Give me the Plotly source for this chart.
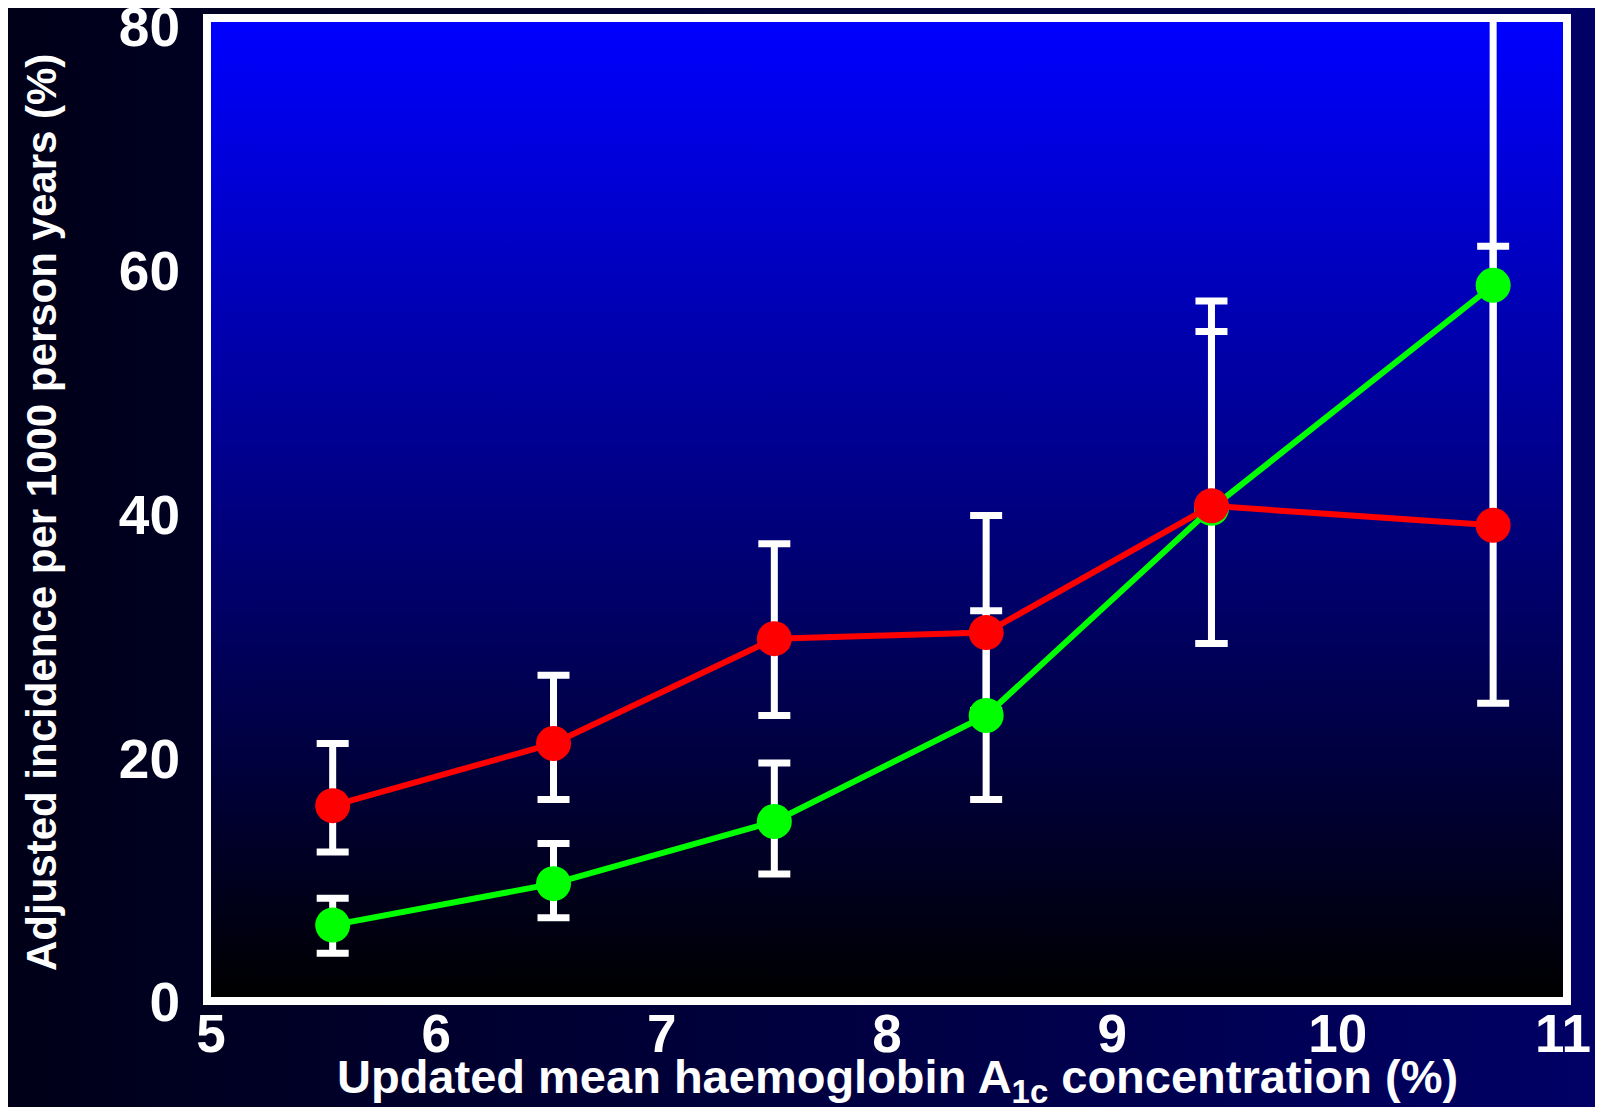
import base64
import plotly.graph_objects as go

# ---- data ----
hba1c = [5.54, 6.52, 7.50, 8.44, 9.44, 10.69]

red_y = [15.7, 20.8, 29.4, 29.9, 40.3, 38.7]
red_hi = [20.8, 26.4, 37.2, 39.5, 54.6, 100.0]
red_lo = [11.9, 16.2, 23.1, 23.5, 29.0, 24.1]

green_y = [5.9, 9.3, 14.4, 23.1, 40.1, 58.4]
green_hi = [8.1, 12.6, 19.2, 31.7, 57.1, 61.6]
green_lo = [3.6, 6.5, 10.1, 16.2, 29.0, 39.0]

x_ticks = [5, 6, 7, 8, 9, 10, 11]
y_ticks = [0, 20, 40, 60, 80]

x_title = "Updated mean haemoglobin A<sub>1c</sub> concentration (%)"
y_title = "Adjusted incidence per 1000 person years (%)"

# ---- layout geometry (page has an 8px body margin) ----
W, H = 1595, 1099
ML, MR, MT, MB = 203, 40, 14, 110
PW, PH = W - ML - MR, H - MT - MB


def svg_gradient(x2, y2, c0, c1):
    svg = (
        '<svg xmlns="http://www.w3.org/2000/svg" width="100" height="100" '
        'viewBox="0 0 100 100" preserveAspectRatio="none">'
        '<defs><linearGradient id="g" x1="0" y1="0" x2="%s" y2="%s">'
        '<stop offset="0" stop-color="%s"/><stop offset="1" stop-color="%s"/>'
        '</linearGradient></defs><rect width="100" height="100" fill="url(#g)"/></svg>'
        % (x2, y2, c0, c1)
    )
    return "data:image/svg+xml;base64," + base64.b64encode(svg.encode()).decode()


fig = go.Figure()


def err_trace(y, hi, lo):
    return go.Scatter(
        x=hba1c, y=y, mode="markers",
        marker=dict(size=1, color="rgba(0,0,0,0)"),
        error_y=dict(type="data", symmetric=False,
                     array=[h - v for h, v in zip(hi, y)],
                     arrayminus=[v - l for v, l in zip(y, lo)],
                     color="white", thickness=7, width=16),
        showlegend=False, hoverinfo="skip",
    )


fig.add_trace(err_trace(red_y, red_hi, red_lo))
fig.add_trace(err_trace(green_y, green_hi, green_lo))

fig.add_trace(go.Scatter(
    x=hba1c, y=green_y, mode="lines+markers",
    line=dict(color="#00ff00", width=6),
    marker=dict(color="#00ff00", size=35),
    showlegend=False,
))
fig.add_trace(go.Scatter(
    x=hba1c, y=red_y, mode="lines+markers",
    line=dict(color="#ff0000", width=6),
    marker=dict(color="#ff0000", size=35),
    showlegend=False,
))

font_family = "Liberation Sans, Arial, sans-serif"

fig.update_layout(
    width=W, height=H,
    margin=dict(l=ML, r=MR, t=MT, b=MB, autoexpand=False),
    paper_bgcolor="#000030",
    plot_bgcolor="rgba(0,0,0,0)",
    font=dict(family=font_family, color="white"),
    images=[
        dict(source=svg_gradient(1, 0, "#000018", "#000066"),
             xref="paper", yref="paper",
             x=-ML / PW, y=1 + MT / PH, sizex=W / PW, sizey=H / PH,
             xanchor="left", yanchor="top", sizing="stretch", layer="below"),
        dict(source=svg_gradient(0, 1, "#0000ff", "#000000"),
             xref="paper", yref="paper",
             x=0, y=1, sizex=1, sizey=1,
             xanchor="left", yanchor="top", sizing="stretch", layer="below"),
    ],
    xaxis=dict(
        range=[5, 11], tickvals=x_ticks, ticktext=[str(v) for v in x_ticks],
        showgrid=False, zeroline=False, ticks="",
        showline=True, mirror=True, linecolor="white", linewidth=8,
        tickfont=dict(size=53, family=font_family, color="white", weight="bold"),
        ticklabelstandoff=-17, ticklabeloverflow="allow",
    ),
    yaxis=dict(
        range=[0, 80], tickvals=y_ticks, ticktext=[str(v) for v in y_ticks],
        showgrid=False, zeroline=False, ticks="",
        showline=True, mirror=True, linecolor="white", linewidth=8,
        tickfont=dict(size=55, family=font_family, color="white", weight="bold"),
        ticklabelstandoff=12, ticklabelshift=5, ticklabeloverflow="allow",
    ),
    annotations=[
        dict(text=x_title, xref="paper", yref="paper",
             x=(889 - ML) / PW, y=(MT + PH - 1072) / PH,
             xanchor="center", yanchor="middle", showarrow=False,
             font=dict(size=47, family=font_family, color="white", weight="bold")),
        dict(text=y_title, xref="paper", yref="paper",
             x=(33 - ML) / PW, y=(MT + PH - 505) / PH, textangle=-90,
             xanchor="center", yanchor="middle", showarrow=False,
             font=dict(size=42, family=font_family, color="white", weight="bold")),
    ],
)

fig.write_html("out.html")
